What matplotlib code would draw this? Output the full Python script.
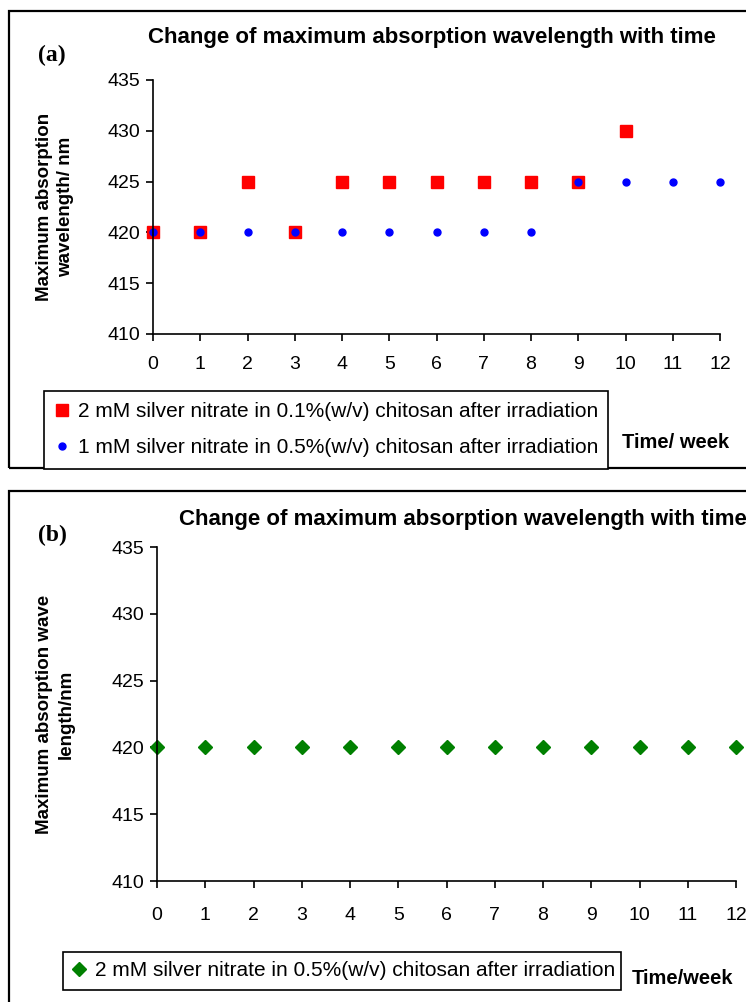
# change of maximum absorption wavelength with time, panels (a) and (b)

import matplotlib
matplotlib.use('Agg')
import matplotlib.pyplot as plt
from matplotlib.patches import Rectangle

weeks_a1 = [0, 1, 2, 3, 4, 5, 6, 7, 8, 9, 10]
wl_a1 = [420, 420, 425, 420, 425, 425, 425, 425, 425, 425, 430]
weeks_a2 = [0, 1, 2, 3, 4, 5, 6, 7, 8, 9, 10, 11, 12]
wl_a2 = [420, 420, 420, 420, 420, 420, 420, 420, 420, 425, 425, 425, 425]
weeks_b = [0, 1, 2, 3, 4, 5, 6, 7, 8, 9, 10, 11, 12]
wl_b = [420, 420, 420, 420, 420, 420, 420, 420, 420, 420, 420, 420, 420]

label_a1 = '2 mM silver nitrate in 0.1%(w/v) chitosan after irradiation'
label_a2 = '1 mM silver nitrate in 0.5%(w/v) chitosan after irradiation'
label_b = '2 mM silver nitrate in 0.5%(w/v) chitosan after irradiation'
title = 'Change of maximum absorption wavelength with time'

plt.rcParams['font.family'] = ['Liberation Sans', 'DejaVu Sans']

W, H = 746, 1002
fig = plt.figure(figsize=(W / 100, H / 100), dpi=100)


def fx(px):
    return px / W


def fy(py):
    return 1 - py / H


# outer frames
fig.patches.append(Rectangle((fx(9), fy(468)), fx(760), fy(11) - fy(468), transform=fig.transFigure,
                             fill=False, edgecolor='black', linewidth=1.6))
fig.patches.append(Rectangle((fx(9), fy(1010)), fx(760), fy(491) - fy(1010), transform=fig.transFigure,
                             fill=False, edgecolor='black', linewidth=1.6))


def style_axes(ax, pad):
    ax.set_xlim(0, 12)
    ax.set_ylim(410, 435)
    ax.set_xticks(range(0, 13))
    ax.set_yticks(range(410, 436, 5))
    for s in ['top', 'right']:
        ax.spines[s].set_visible(False)
    for s in ['left', 'bottom']:
        ax.spines[s].set_linewidth(1.2)
    ax.tick_params(direction='out', length=5, width=1.2, labelsize=14, pad=4)
    ax.tick_params(axis='x', pad=pad)


def add_legend(handles, x0, x1, y0, y1, spacing, bpad):
    leg = fig.legend(handles=handles, loc='upper left',
                     bbox_to_anchor=(fx(x0), fy(y1), fx(x1) - fx(x0), fy(y0) - fy(y1)),
                     mode='expand', prop={'size': 15}, frameon=True, fancybox=False,
                     edgecolor='black', framealpha=1, handlelength=0.6, handletextpad=0.5,
                     labelspacing=spacing, borderpad=bpad, borderaxespad=0)
    leg.get_frame().set_linewidth(1.2)
    return leg


# panel (a)
ax1 = fig.add_axes([fx(153), fy(334), fx(720) - fx(153), fy(80) - fy(334)])
style_axes(ax1, 11)
ax1.plot(weeks_a1, wl_a1, 's', color='red', markersize=8, clip_on=False, label=label_a1)
ax1.plot(weeks_a2, wl_a2, 'o', color='blue', markersize=5, clip_on=False, label=label_a2)

fig.text(fx(52), fy(55), '(a)', fontsize=17, fontweight='bold', family='Liberation Serif',
         ha='center', va='center')
fig.text(fx(432), fy(37), title, fontsize=16, fontweight='bold', ha='center', va='center')
fig.text(fx(45), fy(207), 'Maximum absorption', rotation=90, fontsize=13.5, fontweight='bold',
         ha='center', va='center')
fig.text(fx(66), fy(207), 'wavelength/ nm', rotation=90, fontsize=13.5, fontweight='bold',
         ha='center', va='center')
fig.text(fx(676), fy(443), 'Time/ week', fontsize=14.5, fontweight='bold', ha='center', va='center')

add_legend(ax1.get_lines(), 44, 608, 391, 468, 0.8, 0.55)

# panel (b)
ax2 = fig.add_axes([fx(157), fy(881), fx(736) - fx(157), fy(547) - fy(881)])
style_axes(ax2, 14)
ax2.plot(weeks_b, wl_b, 'D', color='green', markersize=7, clip_on=False, label=label_b)

fig.text(fx(52), fy(535), '(b)', fontsize=17, fontweight='bold', family='Liberation Serif',
         ha='center', va='center')
fig.text(fx(179), fy(520), title, fontsize=16, fontweight='bold', ha='left', va='center')
fig.text(fx(45), fy(714), 'Maximum absorption wave', rotation=90, fontsize=13.5, fontweight='bold',
         ha='center', va='center')
fig.text(fx(66), fy(714), 'length/nm', rotation=90, fontsize=13.5, fontweight='bold',
         ha='center', va='center')
fig.text(fx(632), fy(979), 'Time/week', fontsize=14.5, fontweight='bold', ha='left', va='center')

add_legend(ax2.get_lines(), 63, 621, 952, 992, 0.5, 0.45)

fig.savefig('out.png', dpi=100)
